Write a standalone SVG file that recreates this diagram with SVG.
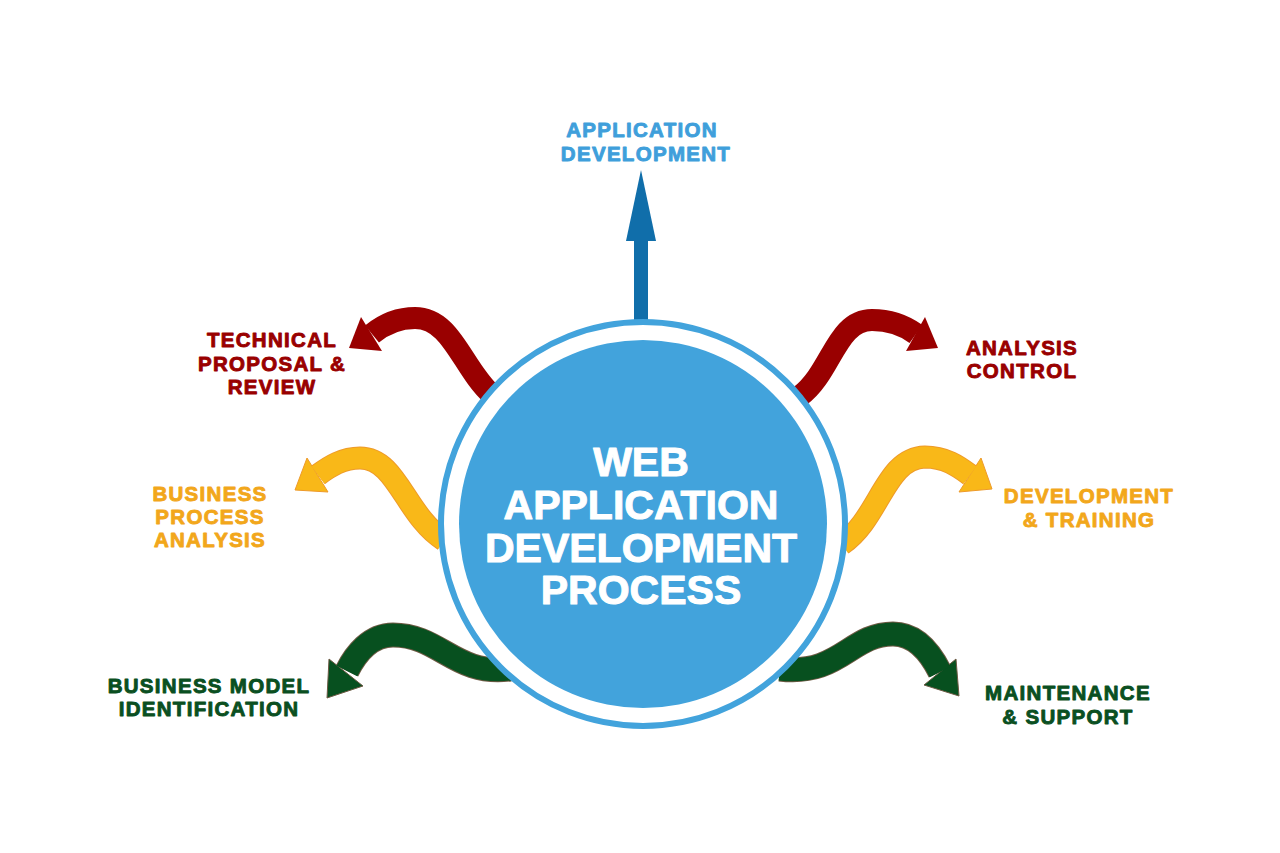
<svg xmlns="http://www.w3.org/2000/svg" width="1280" height="853" viewBox="0 0 1280 853">
<style>
.lbl{font-family:"Liberation Sans",Arial,sans-serif;font-weight:bold;font-size:20.5px;letter-spacing:1.3px;text-anchor:middle;stroke-width:0.9px;stroke-linejoin:round}
.title{font-family:"Liberation Sans",Arial,sans-serif;font-weight:bold;font-size:41px;fill:#fff;stroke:#fff;stroke-width:1px;stroke-linejoin:round;text-anchor:middle}
.blue{fill:#3F9FDB;stroke:#3F9FDB}.red{fill:#990000;stroke:#990000}.yel{fill:#F2A71B;stroke:#F2A71B}.grn{fill:#0A4F21;stroke:#0A4F21}
.rb{fill:none;stroke:#990000;stroke-width:22}
.yo{fill:none;stroke:#EE9A2A;stroke-width:23}
.yb{fill:none;stroke:#F9B818;stroke-width:21}
.go{fill:none;stroke:#6E5A44;stroke-width:25}
.gb{fill:none;stroke:#07501F;stroke-width:23}
</style>
<rect width="1280" height="853" fill="#fff"/>
<g id="connectors">
  <g id="arrow-up">
    <rect x="634" y="238" width="14" height="82" fill="#106EAA"/>
    <polygon points="641,170 656,241 626,241" fill="#106EAA"/>
  </g>
  <g id="arrow-tl">
    <path class="rb" d="M492 395 C462 368 452 318 415 318 C396 318 383 325 372 334"/>
    <polygon points="349,348 361,317 382,351" fill="#990000"/>
  </g>
  <g id="arrow-tr">
    <path class="rb" d="M800 396 C832 372 836 320 872 320 C892 320 905 326 916 334"/>
    <polygon points="938,348 925,317 906,351" fill="#990000"/>
  </g>
  <g id="arrow-ml">
    <path class="yo" d="M444 540 C405 515 397 458 360 458 C343 458 330 466 318 475"/>
    <polygon points="295,490 307,458 328,492" fill="#F9B818" stroke="#EE9A2A" stroke-width="1"/>
    <path class="yb" d="M444 540 C405 515 397 458 360 458 C343 458 330 466 318 475"/>
  </g>
  <g id="arrow-mr">
    <path class="yo" d="M842 544 C880 518 885 458 925 457 C945 457 958 466 970 475"/>
    <polygon points="992,489 981,458 959,492" fill="#F9B818" stroke="#EE9A2A" stroke-width="1"/>
    <path class="yb" d="M842 544 C880 518 885 458 925 457 C945 457 958 466 970 475"/>
  </g>
  <g id="arrow-bl">
    <path class="go" d="M510 669 C455 676 440 635 393 635 C370 635 355 655 347 671"/>
    <polygon points="327,698 329,659 363,686" fill="#07501F" stroke="#6E5A44" stroke-width="1"/>
    <path class="gb" d="M510 669 C455 676 440 635 393 635 C370 635 355 655 347 671"/>
  </g>
  <g id="arrow-br">
    <path class="go" d="M780 669 C840 676 850 634 893 634 C915 634 930 652 940 672"/>
    <polygon points="959,696 956,659 924,685" fill="#07501F" stroke="#6E5A44" stroke-width="1"/>
    <path class="gb" d="M780 669 C840 676 850 634 893 634 C915 634 930 652 940 672"/>
  </g>
</g>
<g id="center">
  <circle cx="643" cy="524" r="202" fill="#fff" stroke="#42A3DC" stroke-width="6"/>
  <circle cx="643" cy="524" r="184" fill="#42A3DC"/>
  <text class="title" x="641" y="476">WEB</text>
  <text class="title" x="641" y="519">APPLICATION</text>
  <text class="title" x="641" y="562">DEVELOPMENT</text>
  <text class="title" x="641" y="604">PROCESS</text>
</g>
<g id="node-app-dev">
  <text class="lbl blue" x="642" y="137">APPLICATION</text>
  <text class="lbl blue" x="646" y="161">DEVELOPMENT</text>
</g>
<g id="node-technical">
  <text class="lbl red" x="272" y="347">TECHNICAL</text>
  <text class="lbl red" x="272" y="371">PROPOSAL &amp;</text>
  <text class="lbl red" x="272" y="394">REVIEW</text>
</g>
<g id="node-analysis">
  <text class="lbl red" x="1022" y="355">ANALYSIS</text>
  <text class="lbl red" x="1022" y="378">CONTROL</text>
</g>
<g id="node-business-process">
  <text class="lbl yel" x="210" y="501">BUSINESS</text>
  <text class="lbl yel" x="210" y="524">PROCESS</text>
  <text class="lbl yel" x="210" y="547">ANALYSIS</text>
</g>
<g id="node-dev-training">
  <text class="lbl yel" x="1089" y="503">DEVELOPMENT</text>
  <text class="lbl yel" x="1089" y="527">&amp; TRAINING</text>
</g>
<g id="node-business-model">
  <text class="lbl grn" x="209" y="693">BUSINESS MODEL</text>
  <text class="lbl grn" x="209" y="716">IDENTIFICATION</text>
</g>
<g id="node-maintenance">
  <text class="lbl grn" x="1068" y="700">MAINTENANCE</text>
  <text class="lbl grn" x="1068" y="724">&amp; SUPPORT</text>
</g>
</svg>
